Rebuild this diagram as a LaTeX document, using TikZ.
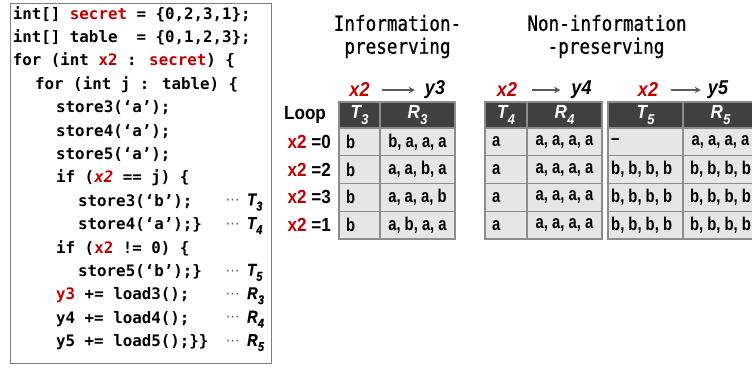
\documentclass[tikz,border=0pt]{standalone}
\usepackage{fontspec}
\usepackage{graphicx}
\usetikzlibrary{arrows.meta}

\newfontfamily\codefont{DejaVu Sans Mono}
\newfontfamily\headfont{DejaVu Sans Mono}[FakeStretch=0.84,FakeBold=0.6]
\newfontfamily\narrowfont{Liberation Sans}[FakeStretch=0.8]
\newfontfamily\labelfont{Liberation Sans}[FakeStretch=0.9]
\newfontfamily\tracefont{Liberation Sans}[FakeStretch=0.85,FakeBold=0.8]
\newfontfamily\symfont{DejaVu Sans}

\definecolor{secretred}{HTML}{C00000}
\definecolor{hdrgray}{HTML}{404040}
\definecolor{cellgray}{HTML}{E6E6E6}
\definecolor{rulegray}{HTML}{8C8C8C}
\definecolor{framegray}{HTML}{7F7F7F}
\definecolor{arrowgray}{HTML}{5A5A5A}

% secret-dependent identifiers
\newcommand{\sv}[1]{\textcolor{secretred}{#1}}
% letter with a lowered index, e.g. T_3
\newcommand{\subl}[2]{#1\kern0.02em\raisebox{-0.3em}{\scalebox{0.75}{#2}}}
% the three-dot leader in front of each trace label
\newcommand{\leader}{{\symfont\fontsize{14}{14}\selectfont\textcolor{arrowgray}{⋯}}}

\tikzset{
  codeline/.style={anchor=west, inner sep=0pt, text height=11pt, text depth=3pt,
    font=\codefont\bfseries\fontsize{15.8}{18}\selectfont},
  leaderdots/.style={inner sep=0pt},
  tracelbl/.style={anchor=west, inner sep=0pt,
    font=\tracefont\bfseries\itshape\fontsize{17}{18}\selectfont},
  heading/.style={inner sep=0pt, font=\headfont\fontsize{21}{24}\selectfont},
  flowlbl/.style={inner sep=1pt, font=\labelfont\bfseries\itshape\fontsize{20}{22}\selectfont},
  flowarrow/.style={draw=arrowgray, line width=1.5pt,
    -{Stealth[length=6pt,width=6.5pt]}},
  rowlbl/.style={anchor=east, inner sep=0pt, font=\labelfont\bfseries\fontsize{19}{20}\selectfont},
  hcell/.style={anchor=north west, draw=rulegray, fill=hdrgray, line width=1.2pt,
    minimum height=26pt, inner sep=0pt, outer sep=0pt, text=white,
    font=\labelfont\bfseries\itshape\fontsize{19}{20}\selectfont},
  dcell/.style={anchor=north west, draw=rulegray, fill=cellgray, line width=1.2pt,
    minimum height=27.75pt, inner sep=0pt, outer sep=0pt},
  celltxt/.style={inner sep=0pt, font=\narrowfont\bfseries\fontsize{18.5}{19}\selectfont},
}

\begin{document}
\begin{tikzpicture}[x=1pt,y=-1pt]
\useasboundingbox (0,0) rectangle (752,367);
\clip (0,0) rectangle (752,367);

% ---------------- source listing ----------------
\draw[framegray, line width=1pt] (10,3) rectangle (271,363);

\node[codeline] (c1)  at (12.7, 15.0) {int[] \sv{secret} = \{0,2,3,1\};};
\node[codeline] (c2)  at (12.7, 38.4) {int[] table\ \ = \{0,1,2,3\};};
\node[codeline] (c3)  at (12.7, 61.8) {for (int \sv{x2} : \sv{secret}) \{};
\node[codeline] (c4)  at (35.0, 85.2) {for (int j : table) \{};
\node[codeline] (c5)  at (56.0,108.6) {store3(‘a’);};
\node[codeline] (c6)  at (56.0,132.0) {store4(‘a’);};
\node[codeline] (c7)  at (56.0,155.4) {store5(‘a’);};
\node[codeline] (c8)  at (56.0,178.8) {if (\sv{\itshape x2} == j) \{};
\node[codeline] (c9)  at (78.0,202.2) {store3(‘b’);};
\node[codeline] (c10) at (78.0,225.6) {store4(‘a’);\}};
\node[codeline] (c11) at (56.0,249.0) {if (\sv{x2} != 0) \{};
\node[codeline] (c12) at (78.0,272.4) {store5(‘b’);\}};
\node[codeline] (c13) at (56.0,295.8) {\sv{y3} += load3();};
\node[codeline] (c14) at (56.0,319.2) {y4 += load4();};
\node[codeline] (c15) at (56.0,342.6) {y5 += load5();\}\}};

% trace labels for the store/load operations
\foreach \yy/\ll/\ii [count=\n] in {202.2/T/3, 225.6/T/4, 272.4/T/5, 295.8/R/3, 319.2/R/4, 342.6/R/5}{
  \node[leaderdots] (d\n) at (232.5,\yy) {\leader};
  \node[tracelbl] (l\n) at (247,\yy) {\subl{\ll}{\ii}};
}

% ---------------- headings ----------------
\node[heading] (hA1) at (397.5,23) {Information-};
\node[heading] (hA2) at (397.5,48) {preserving};
\node[heading] (hB1) at (607,23) {Non-information};
\node[heading] (hB2) at (606,48) {-preserving};

% flows from the secret to the outputs
\node[flowlbl] (fx1) at (359.5,90) {\sv{x2}};
\node[flowlbl] (fy1) at (435,90) {y3};
\draw[flowarrow, shorten <=11pt, shorten >=9pt] (fx1) -- (fy1);
\node[flowlbl] (fx2) at (507,90) {\sv{x2}};
\node[flowlbl] (fy2) at (581.5,90) {y4};
\draw[flowarrow, shorten <=14pt, shorten >=10pt] (fx2) -- (fy2);
\node[flowlbl] (fx3) at (648,90) {\sv{x2}};
\node[flowlbl] (fy3) at (718,90) {y5};
\draw[flowarrow, shorten <=12pt, shorten >=6pt] (fx3) -- (fy3);

% ---------------- loop column ----------------
\node[inner sep=0pt, font=\labelfont\bfseries\fontsize{19}{20}\selectfont] (loop) at (305,115) {Loop};
\foreach \v [count=\r] in {0,2,3,1}{
  \pgfmathsetmacro\yc{128+27.75*(\r-1)+13.9}
  \node[rowlbl] (x\r) at (331,\yc) {\sv{x2} =\v};
}

% ---------------- tables ----------------
% headers
\node[hcell, minimum width=41pt] (ahT) at (339,102) {\subl{T}{3}};
\node[hcell, minimum width=75pt] (ahR) at (380,102) {\subl{R}{3}};
\node[hcell, minimum width=42pt] (bhT) at (485,102) {\subl{T}{4}};
\node[hcell, minimum width=75pt] (bhR) at (527,102) {\subl{R}{4}};
\node[hcell, minimum width=75pt] (chT) at (608,102) {\subl{T}{5}};
\node[hcell, minimum width=75pt] (chR) at (683,102) {\subl{R}{5}};

% body rows: T3 / R3 / T4 / R4 / T5 / R5
\foreach \ta/\ra/\tb/\rb/\tc/\rc [count=\r] in {
  b/{b, a, a, a}/a/{a, a, a, a}/{–}/{a, a, a, a},
  b/{a, a, b, a}/a/{a, a, a, a}/{b, b, b, b}/{b, b, b, b},
  b/{a, a, a, b}/a/{a, a, a, a}/{b, b, b, b}/{b, b, b, b},
  b/{a, b, a, a}/a/{a, a, a, a}/{b, b, b, b}/{b, b, b, b}}{
  \pgfmathsetmacro\yt{128+27.75*(\r-1)}
  \node[dcell, minimum width=41pt] (aT\r) at (339,\yt) {};
  \node[dcell, minimum width=75pt] (aR\r) at (380,\yt) {};
  \node[dcell, minimum width=42pt] (bT\r) at (485,\yt) {};
  \node[dcell, minimum width=75pt] (bR\r) at (527,\yt) {};
  \node[dcell, minimum width=75pt] (cT\r) at (608,\yt) {};
  \node[dcell, minimum width=75pt] (cR\r) at (683,\yt) {};
  \node[celltxt, anchor=west] (aTt\r) at ([xshift=7pt]aT\r.west) {\ta};
  \node[celltxt] (aRt\r) at (aR\r) {\ra};
  \node[celltxt, anchor=west] (bTt\r) at ([xshift=7pt]bT\r.west) {\tb};
  \node[celltxt] (bRt\r) at (bR\r) {\rb};
  \node[celltxt, anchor=west] (cTt\r) at ([xshift=3pt]cT\r.west) {\tc};
  \node[celltxt] (cRt\r) at (cR\r) {\rc};
}
\end{tikzpicture}
\end{document}
